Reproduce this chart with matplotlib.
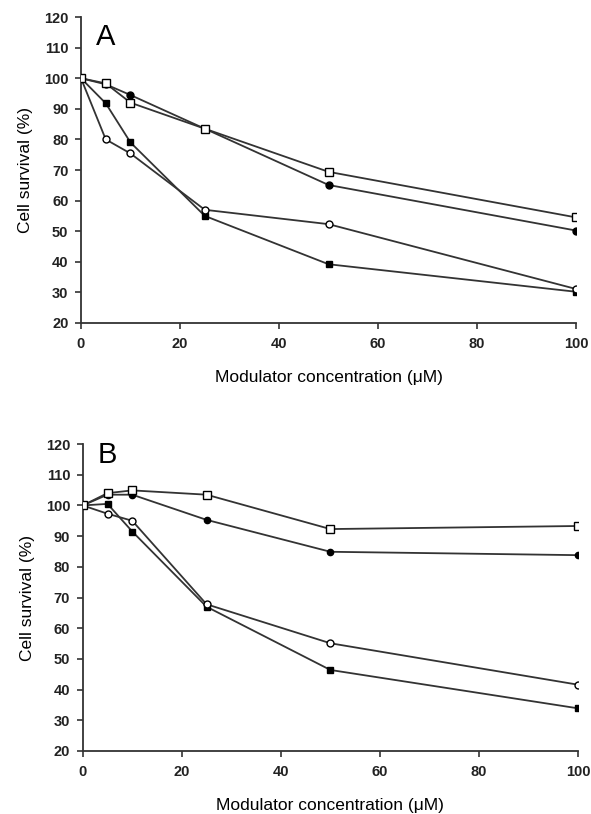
import matplotlib
matplotlib.use('Agg')
import matplotlib.pyplot as plt

plt.rcParams['font.family'] = ['Liberation Sans', 'DejaVu Sans']

conc = [0, 5, 10, 25, 50, 100]

# panel A
a_open_sq = [100, 98.3, 92, 83.5, 69.4, 54.5]
a_fill_ci = [100, 98, 94.5, 83.5, 65.1, 50.2]
a_fill_sq = [100, 91.8, 79, 55, 39.2, 30.2]
a_open_ci = [100, 80, 75.4, 57, 52.3, 31.1]

# panel B
b_open_sq = [100, 104, 104.9, 103.5, 92.3, 93.3]
b_fill_ci = [100, 103.5, 103.5, 95.3, 84.9, 83.8]
b_fill_sq = [100, 100.5, 91.5, 67, 46.4, 33.9]
b_open_ci = [100, 97.3, 95, 67.8, 55.1, 41.6]

yticks = list(range(20, 121, 10))
xticks = [0, 20, 40, 60, 80, 100]

fig = plt.figure(figsize=(5.91, 8.14), dpi=100)
axA = fig.add_axes([0.137, 0.6032, 0.838, 0.3759])
axB = fig.add_axes([0.140, 0.0774, 0.838, 0.3771])

lc = '#333333'


def draw(ax, osq, fci, fsq, oci, letter, ly, ci_ms):
    ax.plot(conc, fsq, '-s', color=lc, lw=1.3, ms=5, mfc='black', mec='black', zorder=3)
    ax.plot(conc, oci, '-o', color=lc, lw=1.3, ms=5, mfc='white', mec='black', zorder=3)
    ax.plot(conc, fci, '-o', color=lc, lw=1.3, ms=ci_ms, mfc='black', mec='black', zorder=4)
    ax.plot(conc, osq, '-s', color=lc, lw=1.3, ms=6, mfc='white', mec='black', zorder=5)
    ax.set_xlim(0, 100)
    ax.set_ylim(20, 120)
    ax.set_xticks(xticks)
    ax.set_yticks(yticks)
    ax.spines['top'].set_visible(False)
    ax.spines['right'].set_visible(False)
    for s in ['left', 'bottom']:
        ax.spines[s].set_color(lc)
        ax.spines[s].set_linewidth(1.3)
    ax.tick_params(direction='out', length=4, width=1.2, color=lc, labelsize=10.5)
    ax.tick_params(axis='x', pad=6)
    ax.tick_params(axis='y', pad=5)
    ax.set_ylabel('Cell survival (%)', fontsize=12.5, labelpad=8)
    ax.set_xlabel('Modulator concentration (\u03bcM)', fontsize=12.5, labelpad=14)
    ax.text(0.03, ly, letter, transform=ax.transAxes, fontsize=21, va='top', ha='left')
    for lab in ax.get_xticklabels() + ax.get_yticklabels():
        lab.set_fontweight('bold')
        lab.set_color('#222222')


draw(axA, a_open_sq, a_fill_ci, a_fill_sq, a_open_ci, 'A', 0.98, 5)
draw(axB, b_open_sq, b_fill_ci, b_fill_sq, b_open_ci, 'B', 1.01, 4.5)

fig.savefig('out.png', dpi=100)
